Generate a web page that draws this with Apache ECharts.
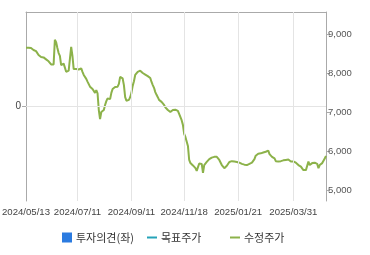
<!DOCTYPE html>
<html><head><meta charset="utf-8">
<script src="https://cdn.jsdelivr.net/npm/echarts@6/dist/echarts.min.js"></script>
<style>html,body{margin:0;padding:0;background:#fff}#c{width:370px;height:255px}</style>
</head><body><div id="c"></div>
<script>
// Trading-day categories: weekdays from the start date, minus KRX holidays
const startDate = '2024-05-13';
const dayCount = 240;
const holidays = ['2024-05-15','2024-06-06','2024-08-15','2024-09-16','2024-09-17','2024-09-18','2024-10-01','2024-10-03','2024-10-09','2024-12-25','2024-12-31','2025-01-01','2025-01-27','2025-01-28','2025-01-29','2025-01-30','2025-03-03','2025-05-01','2025-05-05','2025-05-06'];
const tickDates = ['2024/05/13','2024/07/11','2024/09/11','2024/11/18','2025/01/21','2025/03/31'];
const rightTicks = [5000,6000,7000,8000,9000];
const legendNames = ['투자의견(좌)','목표주가','수정주가'];
const prices = [
8650,8650,8650,8650,8640,8600,8590,8580,8560,8510,
8460,8420,8410,8410,8400,8370,8350,8320,8300,8260,
8220,8220,8220,8850,8790,8640,8510,8440,8200,8230,
8240,8200,8030,8050,8060,8030,8670,8440,8100,8080,
8100,8120,8090,8090,8120,8030,7950,7900,7850,7780,
7740,7650,7620,7590,7540,7490,7560,7480,7050,6820,
7000,7030,7050,7180,7280,7350,7380,7330,7490,7590,
7630,7640,7650,7650,7720,7900,7900,7860,7690,7380,
7290,7290,7310,7380,7490,7670,7790,7950,8000,8030,
8040,8060,8030,8000,8000,7960,7940,7920,7910,7870,
7770,7690,7620,7510,7440,7380,7310,7290,7260,7220,
7180,7120,7090,7050,7010,7000,7040,7050,7050,7060,
7050,7030,6950,6900,6790,6670,6440,6360,6350,6130,
5770,5690,5650,5630,5590,5560,5490,5540,5680,5680,
5670,5440,5640,5670,5720,5770,5790,5810,5830,5850,
5850,5850,5850,5840,5770,5740,5640,5610,5560,5590,
5620,5670,5720,5760,5740,5730,5730,5730,5720,5710,
5700,5690,5670,5690,5650,5620,5640,5670,5670,5690,
5700,5720,5790,5880,5920,5930,5950,5940,5960,5960,
5970,5980,5990,6010,5920,5880,5850,5830,5810,5740,
5730,5730,5730,5740,5760,5760,5770,5770,5770,5780,
5810,5730,5730,5730,5730,5700,5670,5640,5620,5600,
5560,5510,5510,5510,5540,5730,5640,5690,5690,5690,
5700,5710,5670,5560,5640,5690,5690,5720,5810,5870
];

const dates = [];
{
  const d = new Date(startDate + 'T00:00:00Z');
  while (dates.length < dayCount) {
    const wd = d.getUTCDay();
    const iso = d.toISOString().slice(0,10);
    if (wd !== 0 && wd !== 6 && holidays.indexOf(iso) < 0) dates.push(iso.replace(/-/g,'/'));
    d.setUTCDate(d.getUTCDate() + 1);
  }
}
const tickIdx = tickDates.map(t => dates.indexOf(t));
const showTick = (i) => tickIdx.indexOf(i) >= 0;

const chart = echarts.init(document.getElementById('c'), null, {renderer:'canvas'});
const green = '#8cb24a', blue = '#2b7be0', teal = '#25a3b8';
const axisGrey = '#aaa', gridGrey = '#e4e4e4';
const font = 'Liberation Sans, Arial, sans-serif';
const legendBase = {
  top: 227, itemWidth: 10, itemHeight: 10, itemGap: 0, selectedMode: false,
  textStyle: {fontFamily: '"Noto Sans CJK KR", sans-serif', fontSize: 11, color: '#333', padding:[0,0,0,-1]}
};
// grid lines drawn through the axes' own scales
const gridLines = tickDates.slice(1).map(t => ({xAxis: t})).concat([{yAxis: 0}]);
chart.setOption({
  animation: false,
  grid: {left: 26, right: 44, top: 12, bottom: 54, outerBoundsMode: 'none'},
  legend: [
    Object.assign({left: 57, data: [{name: legendNames[0], icon: 'rect'}]}, legendBase),
    Object.assign({left: 142, data: [{name: legendNames[1], icon: 'path://M0,0L10,0L10,2L0,2Z'}]}, legendBase),
    Object.assign({left: 225, data: [{name: legendNames[2], icon: 'path://M0,0L10,0L10,2L0,2Z'}]}, legendBase)
  ],
  xAxis: [{
    type: 'category', data: dates, boundaryGap: false, position: 'bottom',
    axisLine: {show: true, lineStyle: {color: axisGrey}},
    axisTick: {show: true, interval: showTick, length: 3, lineStyle: {color: axisGrey}},
    axisLabel: {interval: showTick, showMinLabel: true, align: 'center', margin: 6, fontSize: 9.6, color: '#444', fontFamily: font},
    splitLine: {show: false}
  }, {
    type: 'category', data: dates, boundaryGap: false, position: 'top',
    axisLine: {show: true, onZero: false, lineStyle: {color: axisGrey}},
    axisTick: {show: false}, axisLabel: {show: false}, splitLine: {show: false}
  }],
  yAxis: [
    {type: 'value', min: -1, max: 1, interval: 1, position: 'left',
     axisLine: {show: true, onZero: false, lineStyle: {color: axisGrey}},
     axisTick: {show: true, length: 4, customValues: [0], lineStyle: {color: axisGrey}},
     axisLabel: {customValues: [0], fontSize: 10, color: '#444', margin: 5, fontFamily: font},
     splitLine: {show: false}},
    {type: 'value', min: 4718, max: 9564, position: 'right',
     axisLine: {show: true, onZero: false, lineStyle: {color: axisGrey}},
     axisTick: {show: true, length: 4, customValues: rightTicks, lineStyle: {color: axisGrey}},
     axisLabel: {customValues: rightTicks, fontSize: 9.5, color: '#555', margin: 2, fontFamily: font,
       formatter: v => v.toLocaleString('en-US')},
     splitLine: {show: false}}
  ],
  series: [
    {name: legendNames[0], type: 'bar', xAxisIndex: 0, yAxisIndex: 0, data: [], z: 1, itemStyle: {color: blue},
     markLine: {silent: true, symbol: 'none', label: {show: false}, animation: false,
       lineStyle: {color: gridGrey, width: 1, type: 'solid'}, data: gridLines}},
    {name: legendNames[1], type: 'line', yAxisIndex: 1, data: [], itemStyle: {color: teal}, lineStyle: {color: teal}},
    {name: legendNames[2], type: 'line', yAxisIndex: 1, data: prices, showSymbol: false, symbol: 'none', z: 3,
     itemStyle: {color: green}, lineStyle: {color: green, width: 2}}
  ]
});
</script></body></html>
